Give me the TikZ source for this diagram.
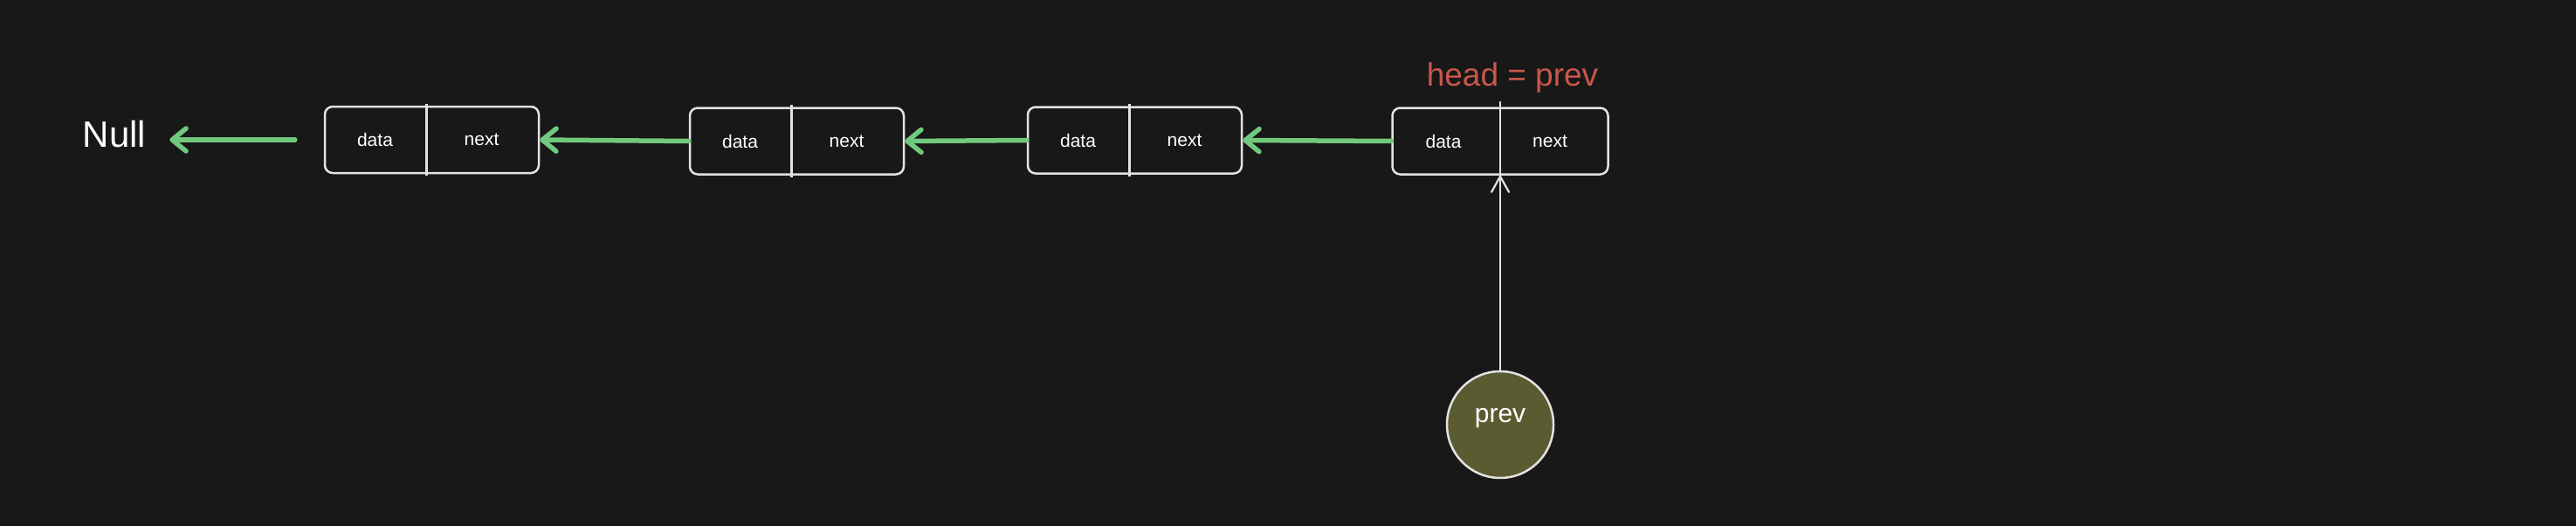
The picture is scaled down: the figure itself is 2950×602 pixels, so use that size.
\documentclass[tikz,border=0pt]{standalone}
\usepackage{fontspec}
\setmainfont{Liberation Sans}
\usetikzlibrary{arrows.meta}
\definecolor{bgc}{HTML}{181818}
\definecolor{linec}{HTML}{E2E2E2}
\definecolor{greenc}{HTML}{71C97D}
\definecolor{redc}{HTML}{C9574B}
\definecolor{olivec}{HTML}{5B5B32}
\begin{document}
\begin{tikzpicture}[x=1pt,y=-1pt,
  llbox/.style={draw=linec, line width=2.5pt, rounded corners=9pt, minimum width=245pt, minimum height=76pt, inner sep=0pt},
  cellline/.style={draw=linec, line width=2.5pt},
  celltxt/.style={text=white, font=\fontsize{21}{24}\selectfont, inner sep=0pt},
  link/.style={draw=greenc, line width=5.5pt, line cap=round, -{Straight Barb[length=16pt,width=26pt,round]}},
  ptr/.style={draw=linec, line width=2.2pt, line cap=round, -{Straight Barb[length=18pt,width=20pt,round]}},
  varnode/.style={circle, draw=linec, line width=2.5pt, fill=olivec, minimum size=122pt, inner sep=0pt}
]
\fill[bgc] (0,0) rectangle (2950,602);
\useasboundingbox (0,0) rectangle (2950,602);

% Null label
\node[text=white, font=\fontsize{42}{48}\selectfont, inner sep=0pt] (null) at (131,153) {Null};

% list nodes
\node[llbox] (n1) at (494.5,160) {};
\node[llbox] (n2) at (912.5,161.5) {};
\node[llbox] (n3) at (1299.5,160.5) {};
\node[llbox, minimum width=247pt] (n4) at (1718,161.5) {};

\foreach \n in {n1,n2,n3} {
  \draw[cellline] ([xshift=-6pt,yshift=2pt]\n.north) -- ([xshift=-6pt,yshift=-2pt]\n.south);
}
\draw[cellline] ([yshift=6pt]n4.north) -- (n4.south);
\foreach \n in {n1,n2,n3,n4} {
  \node[celltxt] (\n d) at ([xshift=-65pt]\n.center) {data};
  \node[celltxt] (\n x) at ([xshift=57pt]\n.center) {next};
}

% head label
\node[text=redc, font=\fontsize{37}{42}\selectfont, inner sep=0pt] (head) at (1732,89) {head = prev};

% links
\draw[link, shorten <=33pt, shorten >=27pt] (n1.west) -- (n1.west -| null.east);
\draw[link] (n2.west) -- (n1.east);
\draw[link] (n3.west) -- (n2.east);
\draw[link] (n4.west) -- (n3.east);

% prev pointer
\node[varnode] (prev) at (1718,486) {};
\node[text=white, font=\fontsize{30}{34}\selectfont, inner sep=0pt] (prevtxt) at ([yshift=7pt]prev.center) {prev};
\draw[ptr] (prev.north) -- (n4.south);
\end{tikzpicture}
\end{document}
